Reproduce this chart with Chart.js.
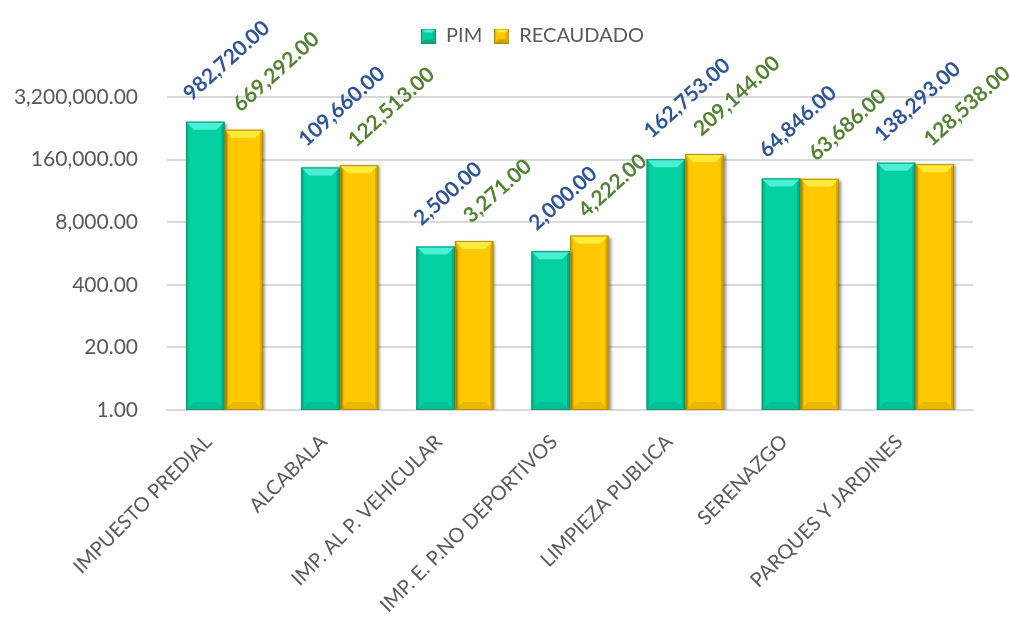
<!DOCTYPE html>
<html>
<head>
<meta charset="utf-8">
<script src="https://cdn.jsdelivr.net/npm/chart.js@4.4.1/dist/chart.umd.min.js"></script>
<style>
  html, body { margin: 0; padding: 0; background: #ffffff; }
  #wrap { width: 1010px; height: 619px; position: relative; }
</style>
</head>
<body>
<div id="wrap"><canvas id="c" width="1010" height="619"></canvas></div>
<script>
const categories = ["IMPUESTO PREDIAL", "ALCABALA", "IMP. AL P. VEHICULAR", "IMP. E. P.NO DEPORTIVOS", "LIMPIEZA PUBLICA", "SERENAZGO", "PARQUES Y JARDINES"];
const pimValues = [982720, 109660, 2500, 2000, 162753, 64846, 138293];
const recaudadoValues = [669292, 122513, 3271, 4222, 209144, 63686, 128538];
const seriesNames = ["PIM", "RECAUDADO"];
const yTickValues = [1, 20, 400, 8000, 160000, 3200000];

const FONT = "Lato, 'Open Sans', 'DejaVu Sans', sans-serif";
const fmt = v => Number(v).toLocaleString('en-US', { minimumFractionDigits: 2, maximumFractionDigits: 2 });

const styles = [
  { face: '#03D1A1', top: '#4BEFD6', dark: '#00966F', label: '#2F5597', dx: -14, dy: -20 },
  { face: '#FFC800', top: '#FFEB3B', dark: '#B88A00', label: '#548235', dx: -3, dy: -17 }
];

function legendIcon(st) {
  const s = 15, c = document.createElement('canvas');
  c.width = s; c.height = s;
  const g = c.getContext('2d');
  g.fillStyle = st.face; g.fillRect(0, 0, s, s);
  const b = 4;
  g.fillStyle = st.top;
  g.beginPath(); g.moveTo(0,0); g.lineTo(s,0); g.lineTo(s-b,b); g.lineTo(b,b); g.closePath(); g.fill();
  g.fillStyle = 'rgba(0,0,0,0.18)';
  g.beginPath(); g.moveTo(0,s); g.lineTo(s,s); g.lineTo(s-b,s-b); g.lineTo(b,s-b); g.closePath(); g.fill();
  g.fillStyle = 'rgba(0,0,0,0.10)';
  g.beginPath(); g.moveTo(s,0); g.lineTo(s,s); g.lineTo(s-b,s-b); g.lineTo(s-b,b); g.closePath(); g.fill();
  g.strokeStyle = st.dark; g.lineWidth = 1; g.strokeRect(0.5, 0.5, s-1, s-1);
  return c;
}

const shadowPlugin = {
  id: 'barShadow',
  beforeDatasetsDraw(chart) {
    const ctx = chart.ctx;
    ctx.save();
    ctx.shadowColor = 'rgba(0,0,0,0.45)';
    ctx.shadowBlur = 3;
    ctx.shadowOffsetX = 2;
    ctx.shadowOffsetY = 1;
  },
  afterDatasetsDraw(chart) {
    chart.ctx.restore();
  }
};

const bevelPlugin = {
  id: 'bevel',
  afterDatasetsDraw(chart) {
    const ctx = chart.ctx;
    chart.data.datasets.forEach((ds, di) => {
      const st = styles[di];
      const meta = chart.getDatasetMeta(di);
      meta.data.forEach(bar => {
        const p = bar.getProps(['x', 'y', 'base', 'width'], true);
        const L = p.x - p.width / 2, R = p.x + p.width / 2, T = p.y, B = p.base;
        const b = 8;
        ctx.save();
        ctx.fillStyle = st.top;
        ctx.beginPath(); ctx.moveTo(L, T); ctx.lineTo(R, T); ctx.lineTo(R - b, T + b); ctx.lineTo(L + b, T + b); ctx.closePath(); ctx.fill();
        ctx.fillStyle = 'rgba(0,0,0,0.08)';
        ctx.beginPath(); ctx.moveTo(L, B); ctx.lineTo(R, B); ctx.lineTo(R - b, B - b); ctx.lineTo(L + b, B - b); ctx.closePath(); ctx.fill();
        const s = 3;
        ctx.fillStyle = 'rgba(0,0,0,0.10)';
        ctx.beginPath(); ctx.moveTo(L, T); ctx.lineTo(L + s, T + s); ctx.lineTo(L + s, B - s); ctx.lineTo(L, B); ctx.closePath(); ctx.fill();
        ctx.fillStyle = 'rgba(0,0,0,0.16)';
        ctx.beginPath(); ctx.moveTo(R, T); ctx.lineTo(R - s, T + s); ctx.lineTo(R - s, B - s); ctx.lineTo(R, B); ctx.closePath(); ctx.fill();
        ctx.strokeStyle = st.dark; ctx.lineWidth = 1;
        ctx.strokeRect(L + 0.5, T + 0.5, p.width - 1, B - T - 1);
        ctx.restore();
      });
    });
  }
};

const labelPlugin = {
  id: 'rotLabels',
  afterDatasetsDraw(chart) {
    const ctx = chart.ctx;
    chart.data.datasets.forEach((ds, di) => {
      const st = styles[di];
      const meta = chart.getDatasetMeta(di);
      meta.data.forEach((bar, i) => {
        const p = bar.getProps(['x', 'y'], true);
        ctx.save();
        ctx.translate(p.x + st.dx, p.y + st.dy);
        ctx.rotate(-42 * Math.PI / 180);
        ctx.font = 'bold 21px ' + FONT;
        ctx.fillStyle = st.label;
        ctx.textAlign = 'left';
        ctx.textBaseline = 'alphabetic';
        ctx.fillText(fmt(ds.data[i]), 0, 0);
        ctx.restore();
      });
    });
  }
};

const legendPlugin = {
  id: 'legendTweak',
  beforeInit(chart) {
    const origFit = chart.legend.fit;
    chart.legend.fit = function () {
      origFit.call(this);
      this.height = 97 - 14;
    };
  },
  afterLayout(chart) {
    const lg = chart.legend;
    lg.left += 46; lg.right += 46;
  }
};

const icons = styles.map(legendIcon);

new Chart(document.getElementById('c'), {
  type: 'bar',
  data: {
    labels: categories,
    datasets: [
      { label: seriesNames[0], data: pimValues, backgroundColor: styles[0].face, borderWidth: 0, pointStyle: icons[0] },
      { label: seriesNames[1], data: recaudadoValues, backgroundColor: styles[1].face, borderWidth: 0, pointStyle: icons[1] }
    ]
  },
  options: {
    responsive: false,
    animation: false,
    devicePixelRatio: 1,
    layout: { padding: { top: 14, right: 37, left: 0, bottom: 0 } },
    datasets: { bar: { categoryPercentage: 0.67, barPercentage: 1.0 } },
    plugins: {
      legend: {
        position: 'top',
        labels: {
          usePointStyle: true,
          boxWidth: 15, boxHeight: 15,
          padding: 12,
          color: '#595959',
          font: { family: FONT, size: 20 }
        }
      },
      tooltip: { enabled: false }
    },
    scales: {
      x: {
        grid: { display: false, drawTicks: false },
        border: { display: true, color: '#D9D9D9', width: 2 },
        ticks: {
          color: '#595959',
          font: { family: FONT, size: 20 },
          maxRotation: 45, minRotation: 45,
          autoSkip: false,
          padding: 20,
          labelOffset: -16
        },
        afterFit(axis) { axis.height = 209; }
      },
      y: {
        type: 'logarithmic',
        min: 1, max: 3200000,
        grid: { color: '#D9D9D9', lineWidth: 2, drawTicks: false },
        border: { display: false },
        ticks: {
          color: '#595959',
          font: { family: FONT, size: 21 },
          padding: 29,
          callback: v => fmt(v)
        },
        afterBuildTicks(axis) { axis.ticks = yTickValues.map(v => ({ value: v, major: false })); },
        afterFit(axis) { axis.width = 167; }
      }
    }
  },
  plugins: [legendPlugin, shadowPlugin, bevelPlugin, labelPlugin]
});
</script>
</body>
</html>
